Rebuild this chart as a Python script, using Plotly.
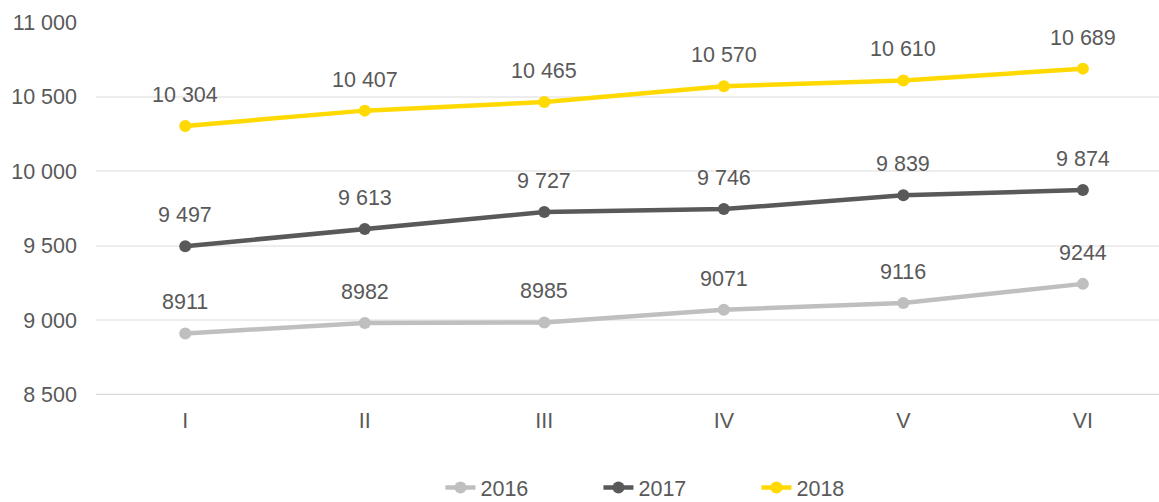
import plotly.graph_objects as go

categories = ["I", "II", "III", "IV", "V", "VI"]
series_names = ["2016", "2017", "2018"]
values_2016 = [8911, 8982, 8985, 9071, 9116, 9244]
values_2017 = [9497, 9613, 9727, 9746, 9839, 9874]
values_2018 = [10304, 10407, 10465, 10570, 10610, 10689]
label_2016 = ["8911", "8982", "8985", "9071", "9116", "9244"]
label_2017 = ["9 497", "9 613", "9 727", "9 746", "9 839", "9 874"]
label_2018 = ["10 304", "10 407", "10 465", "10 570", "10 610", "10 689"]
y_ticks = [8500, 9000, 9500, 10000, 10500, 11000]
y_tick_text = ["8 500", "9 000", "9 500", "10 000", "10 500", "11 000"]

colors = ["#BFBFBF", "#595959", "#FFD900"]
all_values = [values_2016, values_2017, values_2018]
all_labels = [label_2016, label_2017, label_2018]

FONT = "Liberation Sans, Arial, sans-serif"
TXT = "#595959"
FS = 21.5

fig = go.Figure()
for name, vals, col in zip(series_names, all_values, colors):
    fig.add_trace(go.Scatter(
        x=list(range(len(categories))), y=vals, name=name, mode="lines+markers",
        line=dict(color=col, width=4.5),
        marker=dict(color=col, size=12),
    ))

annotations = []
for vals, labs in zip(all_values, all_labels):
    for i, (v, t) in enumerate(zip(vals, labs)):
        annotations.append(dict(
            x=i, y=v, xref="x", yref="y", text=t, showarrow=False,
            yshift=31, yanchor="middle", xanchor="center",
            font=dict(family=FONT, size=FS, color=TXT),
        ))

fig.update_layout(
    width=1159, height=502,
    margin=dict(l=96, r=0, t=22, b=107, autoexpand=False),
    paper_bgcolor="white", plot_bgcolor="white",
    font=dict(family=FONT, size=FS, color=TXT),
    showlegend=True,
    legend=dict(orientation="h", x=0.547, xanchor="center", y=-0.248, yanchor="middle",
                yref="paper", font=dict(family=FONT, size=FS, color=TXT),
                entrywidth=113, bgcolor="rgba(0,0,0,0)"),
    annotations=annotations,
    xaxis=dict(
        tickmode="array", tickvals=list(range(len(categories))), ticktext=categories,
        range=[-0.497, 5.424], showgrid=False, zeroline=False, showline=False,
        ticks="", ticklabelstandoff=10, automargin=False,
        tickfont=dict(family=FONT, size=FS, color=TXT),
    ),
    yaxis=dict(
        range=[8498, 11002], tickmode="array", tickvals=y_ticks, ticktext=y_tick_text,
        showgrid=True, gridcolor="#EDEDED", gridwidth=2, zeroline=False, showline=False,
        ticks="", ticklabelstandoff=18, automargin=False,
        tickfont=dict(family=FONT, size=FS, color=TXT),
    ),
    shapes=[dict(type="line", xref="paper", yref="y", x0=0, x1=1, y0=8500, y1=8500,
                 line=dict(color="#D9D9D9", width=2), layer="below")],
)

fig.write_html(
    "out.html",
    config={"displayModeBar": False},
    post_script="document.body.style.margin='0';document.body.style.overflow='hidden';",
)
